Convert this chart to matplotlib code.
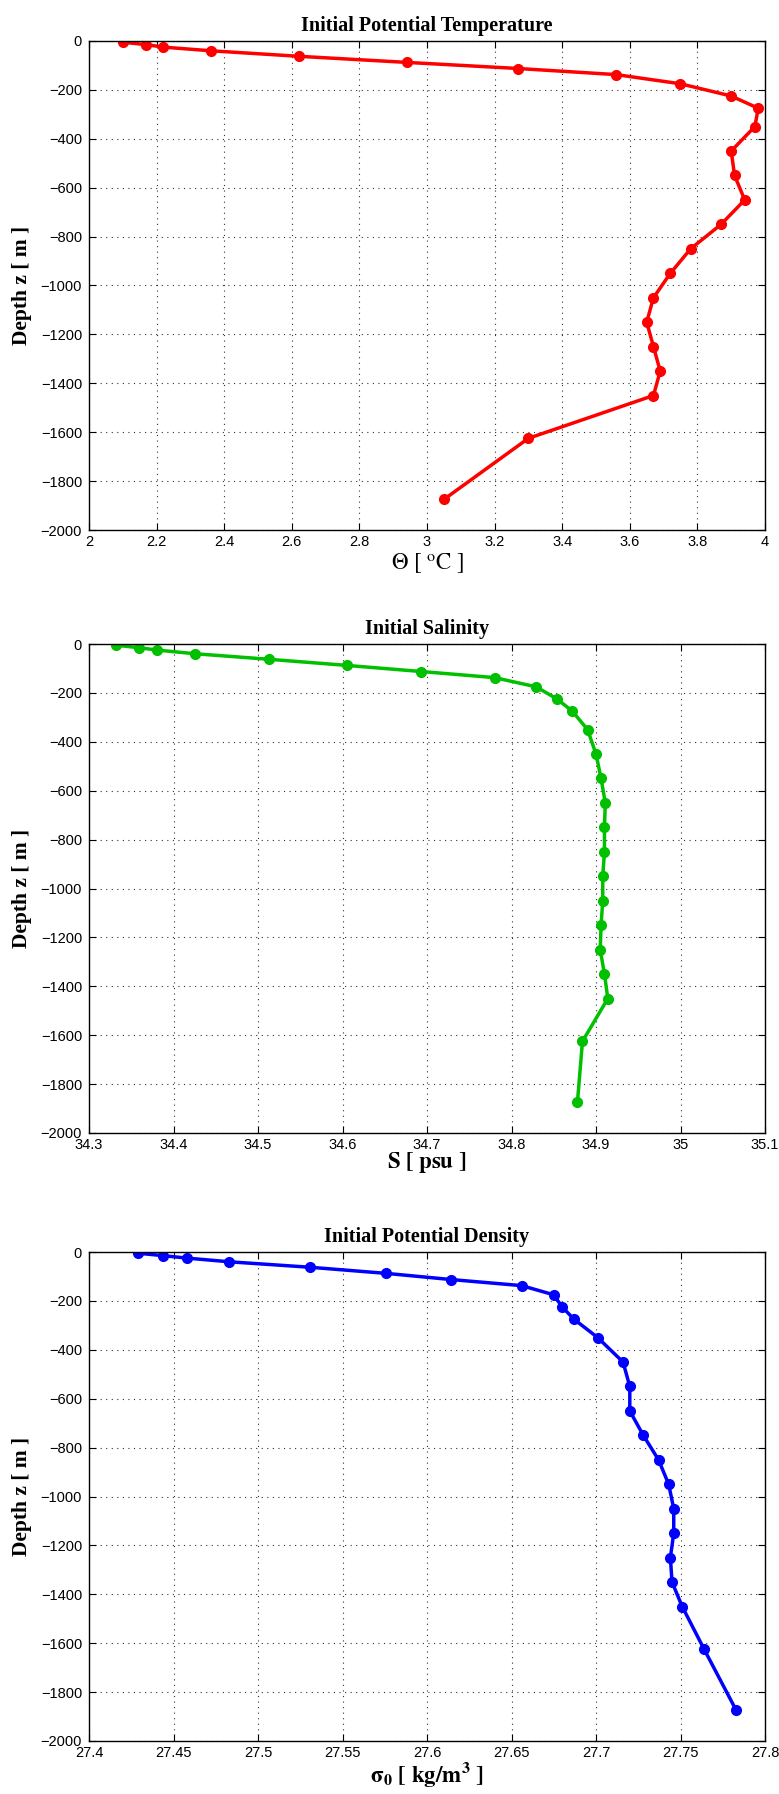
import numpy as np
import matplotlib
matplotlib.use('Agg')
import matplotlib.pyplot as plt
from matplotlib.ticker import FuncFormatter

plt.rcParams['mathtext.fontset'] = 'stix'
plt.rcParams['font.family'] = ['Liberation Sans', 'DejaVu Sans']

# ---- data: depth levels (cell centres) and initial profiles ----
depth = [-5, -15, -25, -40, -62.5, -87.5, -112.5, -137.5, -175, -225, -275,
         -350, -450, -550, -650, -750, -850, -950, -1050, -1150, -1250,
         -1350, -1450, -1625, -1875]

theta = [2.10, 2.17, 2.22, 2.36, 2.62, 2.94, 3.27, 3.56, 3.75, 3.90, 3.98,
         3.97, 3.90, 3.91, 3.94, 3.87, 3.78, 3.72, 3.67, 3.65, 3.67,
         3.69, 3.67, 3.30, 3.05]

salt = [34.332, 34.359, 34.381, 34.426, 34.513, 34.605, 34.693, 34.780,
        34.829, 34.854, 34.872, 34.890, 34.900, 34.906, 34.911, 34.910,
        34.910, 34.908, 34.908, 34.906, 34.905, 34.910, 34.914, 34.884,
        34.878]

sigma0 = [27.429, 27.444, 27.458, 27.483, 27.531, 27.576, 27.614, 27.656,
          27.675, 27.680, 27.687, 27.701, 27.716, 27.720, 27.720, 27.728,
          27.737, 27.743, 27.746, 27.746, 27.744, 27.745, 27.751, 27.764,
          27.783]

panels = [
    (theta, 'red', 'Initial Potential Temperature', r'$\Theta\ [\ ^{\mathrm{o}}\mathrm{C}\ ]$',
     (2, 4), np.arange(2, 4.01, 0.2), 2),
    (salt, '#00c000', 'Initial Salinity', r'$\mathbf{S\ [\ psu\ ]}$',
     (34.3, 35.1), np.arange(34.3, 35.101, 0.1), -1),
    (sigma0, 'blue', 'Initial Potential Density', r'$\mathbf{\sigma_0\ [\ kg/m^3\ ]}$',
     (27.4, 27.8), np.arange(27.4, 27.801, 0.05), 0),
]

W, H = 779, 1794
fig = plt.figure(figsize=(W / 100, H / 100), dpi=100)
tops = [41, 644, 1252]
left, right, ah = 89, 765, 489

for (vals, col, title, xlab, xlim, xt, lp), top in zip(panels, tops):
    ax = fig.add_axes([left / W, 1 - (top + ah) / H, (right - left) / W, ah / H])
    ax.plot(vals, depth, '-o', color=col, lw=2.5, ms=7)
    ax.set_xlim(*xlim)
    ax.set_ylim(-2000, 0)
    ax.set_xticks(xt)
    ax.set_yticks(np.arange(-2000, 1, 200))
    ax.xaxis.set_major_formatter(FuncFormatter(lambda v, p: '%g' % round(v, 3)))
    ax.tick_params(direction='in', top=True, right=True, labelsize=10.5, length=5, width=0.8)
    ax.tick_params(axis='y', pad=5)
    ax.grid(True, linestyle=(0, (1, 4)), color='#333333', lw=0.8)
    for s in ax.spines.values():
        s.set_linewidth(1.0)
    ax.set_title(title, fontsize=14.5, fontweight='bold', family='Liberation Serif', pad=7)
    ax.set_ylabel('Depth z [ m ]', fontsize=15.5, fontweight='bold', family='Liberation Serif', labelpad=6)
    ax.set_xlabel(xlab, fontsize=16.5, labelpad=lp)

fig.savefig('out.png', dpi=100)
